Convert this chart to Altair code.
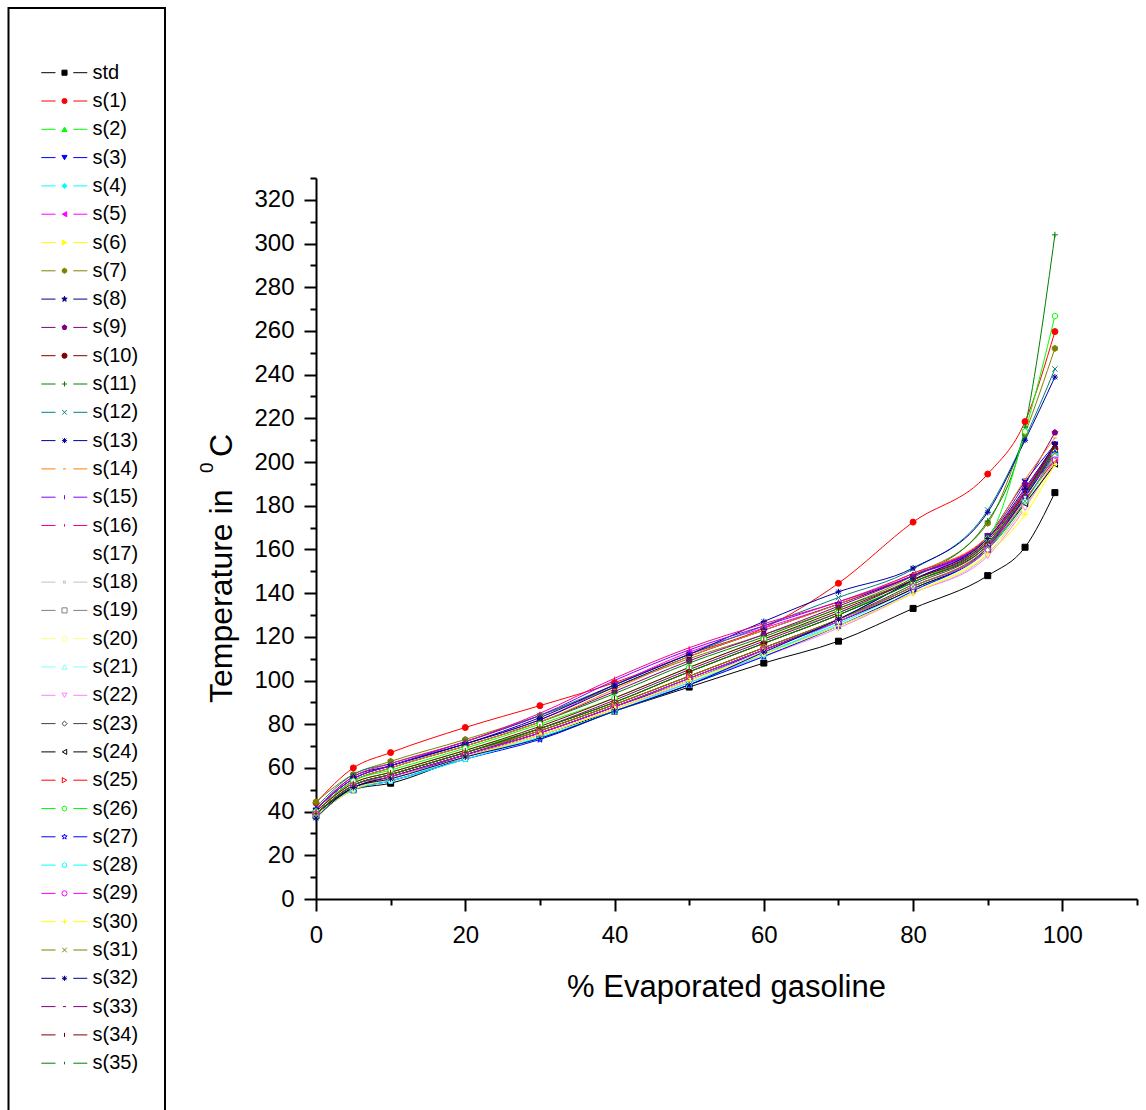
import math
import altair as alt
import pandas as pd

# ---------------- data ----------------
x_vals = [0, 5, 10, 20, 30, 40, 50, 60, 70, 80, 90, 95, 99]

t_std = [38, 50, 53, 65, 75, 86, 97, 108, 118, 133, 148, 161, 186]
t_s1 = [44, 60, 67, 78.5, 88.5, 99, 112, 124, 144.5, 172.5, 194.5, 218.5, 259.7]
t_s2 = [40, 53, 58, 68, 78, 90, 104, 117, 130, 145, 163, 186, 207]
t_s3 = [39, 51, 55, 66, 76, 88, 100, 114, 128, 146, 166, 191, 208]
t_s4 = [38, 50, 54, 65, 74, 86, 98, 112, 126, 142, 160, 183, 203]
t_s5 = [41, 55, 61, 71, 82, 98, 113, 124, 135, 148, 163, 184, 206]
t_s6 = [39, 52, 57, 67, 77, 89, 102, 115, 128, 143, 160, 180, 202]
t_s7 = [44.5, 57, 63, 73, 84, 97, 110, 121, 133, 148, 172, 213, 252]
t_s8 = [41, 55, 61, 71, 82, 97, 111, 123, 135, 148, 165, 187, 208]
t_s9 = [40, 54, 60, 70, 81, 95, 109, 121, 134, 148, 166, 190, 213.5]
t_s10 = [39, 52, 57, 67, 78, 90, 104, 117, 130, 145, 162, 184, 206]
t_s11 = [40, 54, 60, 70, 81, 94, 108, 120, 133, 147, 173, 216, 304]
t_s12 = [42, 57, 62, 72, 84, 98, 112, 125, 138, 151, 178, 211, 242.6]
t_s13 = [41, 56, 61, 71, 83, 98, 112, 127, 140.6, 151.5, 177, 210, 238.9]
t_s14 = [40, 54, 60, 70, 81, 96, 111, 123, 135, 149, 166, 192, 211]
t_s15 = [41, 55, 61, 72, 84, 100, 114, 125, 136, 148, 165, 186, 207]
t_s16 = [41, 56, 62, 72, 85, 101, 115, 126, 136, 149, 165, 187, 208]
t_s17 = [39, 52, 57, 67, 77, 89, 102, 115, 128, 143, 161, 183, 204]
t_s18 = [38, 50, 55, 65, 75, 87, 100, 113, 125, 140, 158, 180, 200]
t_s19 = [39, 51, 56, 66, 76, 88, 101, 114, 127, 142, 160, 182, 203]
t_s20 = [38, 51, 55, 65, 75, 87, 99, 112, 124, 140, 159, 178, 200]
t_s21 = [38, 50, 55, 65, 74, 86, 98, 111, 125, 141, 160, 181, 202]
t_s22 = [38, 50, 55, 65, 75, 87, 99, 111, 124, 140, 157, 179, 201]
t_s23 = [39, 51, 56, 66, 77, 89, 102, 115, 128, 144, 162, 184, 205]
t_s24 = [39, 51, 56, 66, 76, 88, 101, 114, 127, 142, 160, 181, 199]
t_s25 = [39, 52, 57, 67, 77, 89, 102, 115, 128, 143, 161, 183, 201]
t_s26 = [40, 54, 59, 69, 80, 92, 106, 119, 131, 145, 165, 214, 266.8]
t_s27 = [38, 50, 54, 64, 73, 86, 98, 111, 125, 141, 161, 184, 204]
t_s28 = [38, 50, 54, 64, 74, 86, 99, 112, 127, 143, 160, 182, 203]
t_s29 = [39, 52, 56, 66, 76, 88, 101, 114, 127, 143, 160, 186, 201]
t_s30 = [38, 50, 55, 65, 75, 87, 100, 112, 125, 140, 158, 176, 199]
t_s31 = [39, 52, 57, 67, 77, 89, 102, 115, 128, 143, 161, 182, 204]
t_s32 = [37, 51, 55, 65, 73.5, 86, 98, 113, 128, 146, 165, 188, 208]
t_s33 = [39, 52, 57, 67, 78, 91, 105, 118, 131, 146, 163, 185, 207]
t_s34 = [40, 53, 58, 68, 79, 92, 106, 119, 132, 146, 164, 186, 208]
t_s35 = [39, 52, 57, 67, 78, 90, 104, 117, 130, 145, 163, 185, 206]

series_names = ["std"] + [f"s({i})" for i in range(1, 36)]
series_values = [t_std, t_s1, t_s2, t_s3, t_s4, t_s5, t_s6, t_s7, t_s8, t_s9,
                 t_s10, t_s11, t_s12, t_s13, t_s14, t_s15, t_s16, t_s17, t_s18,
                 t_s19, t_s20, t_s21, t_s22, t_s23, t_s24, t_s25, t_s26, t_s27,
                 t_s28, t_s29, t_s30, t_s31, t_s32, t_s33, t_s34, t_s35]

x_title = "% Evaporated gasoline"
y_title_main = "Temperature in"
y_title_sup = "0"
y_title_unit = "C"

x_major = [0, 20, 40, 60, 80, 100]
x_minor = [10, 30, 50, 70, 90, 110]
y_major = list(range(0, 321, 20))
y_minor = list(range(10, 331, 20))

# ---------------- styles ----------------
series_colors = [
    "#000000", "#FF0000", "#00FF00", "#0000FF", "#00FFFF", "#FF00FF", "#FFFF00",
    "#808000", "#000080", "#800080", "#800000", "#008000", "#008080", "#0000A0",
    "#FF8000", "#8000FF", "#FF0080", "#FFFFFF", "#C0C0C0", "#808080", "#FFFF80",
    "#80FFFF", "#FF80FF", "#404040", "#000000", "#FF0000", "#00FF00", "#0000FF",
    "#00FFFF", "#FF00FF", "#FFFF00", "#808000", "#000080", "#800080", "#800000",
    "#008000",
]


def poly_path(n, r_out, r_in=None):
    pts = []
    k = 2 * n if r_in is not None else n
    for i in range(k):
        r = r_out if (r_in is None or i % 2 == 0) else r_in
        a = -math.pi / 2 + i * 2 * math.pi / k
        pts.append((r * math.cos(a), r * math.sin(a)))
    return "M" + "L".join(f"{px:.3f},{py:.3f}" for px, py in pts) + "Z"


HEX = poly_path(6, 1.0)
STAR = poly_path(5, 1.1, 0.45)
PENT = poly_path(5, 1.0)
PLUS = "M-1,0L1,0M0,-1L0,1"
XMARK = "M-0.9,-0.9L0.9,0.9M-0.9,0.9L0.9,-0.9"
AST = "M-1,0L1,0M0,-1L0,1M-0.75,-0.75L0.75,0.75M-0.75,0.75L0.75,-0.75"
DASH = "M-0.6,0L0.6,0"
BAR = "M0,-0.8L0,0.8"
TICK = "M0,-0.55L0,0.45"
SMALL = "M-0.4,-0.4L0.4,-0.4L0.4,0.4L-0.4,0.4Z"

series_shapes = [
    "square", "circle", "triangle-up", "triangle-down", "diamond", "triangle-left",
    "triangle-right", HEX, STAR, PENT, "circle", PLUS, XMARK, AST, DASH, BAR, TICK,
    "circle", SMALL, "square", "circle", "triangle-up", "triangle-down", "diamond",
    "triangle-left", "triangle-right", HEX, STAR, PENT, "circle", PLUS, XMARK, AST,
    DASH, BAR, TICK,
]
fill_kind = (["solid"] * 11 + ["none"] * 6 + ["white"] * 1 + ["white"] * 11 + ["none"] * 6)
series_fills = []
for c, k in zip(series_colors, fill_kind):
    series_fills.append(c if k == "solid" else ("#FFFFFF" if k == "white" else "transparent"))

FONT = "Liberation Sans"

# ---------------- tables ----------------
rows = []
for name, vals in zip(series_names, series_values):
    for xv, yv in zip(x_vals, vals):
        rows.append({"series": name, "pct": xv, "temp": yv})
df = pd.DataFrame(rows)
leg_df = pd.DataFrame({"series": series_names, "li": list(range(len(series_names)))})

PW, PH = 821, 721
x_scale = alt.Scale(domain=[0, 110], nice=False, zero=False)
y_scale = alt.Scale(domain=[0, 330], nice=False, zero=False)
color_scale = alt.Scale(domain=series_names, range=series_colors)
shape_scale = alt.Scale(domain=series_names, range=series_shapes)
fill_scale = alt.Scale(domain=series_names, range=series_fills)

LEG_TOP = 72.7 - 178
LEG_STEP = 28.3
leg_scale = alt.Scale(domain=[0, 35], range=[LEG_TOP, LEG_TOP + 35 * LEG_STEP], nice=False, zero=False)

major_axis_common = dict(grid=False, title=None, domainColor="black", domainWidth=2,
                         tickColor="black", tickWidth=2, tickSize=12,
                         labelFont=FONT, labelFontSize=24, labelColor="black",
                         labelFlush=False, labelOverlap=False, format="d")
minor_axis_common = dict(grid=False, title=None, labels=False, domain=False,
                         tickColor="black", tickWidth=2, tickSize=6)

lines = alt.Chart(df).mark_line(strokeWidth=1, interpolate="monotone").encode(
    x=alt.X("pct:Q", scale=x_scale,
            axis=alt.Axis(values=x_major, orient="bottom", labelPadding=12, **major_axis_common)),
    y=alt.Y("temp:Q", scale=y_scale,
            axis=alt.Axis(values=y_major, orient="left", labelPadding=10, **major_axis_common)),
    color=alt.Color("series:N", scale=color_scale, legend=None),
    order=alt.Order("pct:Q"),
)

points = alt.Chart(df).mark_point(size=36, strokeWidth=1, opacity=1, fillOpacity=1).encode(
    x=alt.X("pct:Q", scale=x_scale, axis=alt.Axis(values=x_minor, orient="bottom", **minor_axis_common)),
    y=alt.Y("temp:Q", scale=y_scale, axis=alt.Axis(values=y_minor, orient="left", **minor_axis_common)),
    shape=alt.Shape("series:N", scale=shape_scale, legend=None),
    stroke=alt.Stroke("series:N", scale=color_scale, legend=None),
    fill=alt.Fill("series:N", scale=fill_scale, legend=None),
)

leg_y = alt.Y("li:Q", scale=leg_scale, axis=None)

leg_line_l = alt.Chart(leg_df).mark_rule(strokeWidth=1).encode(
    x=alt.value(41.3 - 316), x2=alt.value(55.5 - 316), y=leg_y,
    color=alt.Color("series:N", scale=color_scale, legend=None),
)
leg_line_r = alt.Chart(leg_df).mark_rule(strokeWidth=1).encode(
    x=alt.value(73.3 - 316), x2=alt.value(87.3 - 316), y=leg_y,
    color=alt.Color("series:N", scale=color_scale, legend=None),
)
leg_marks = alt.Chart(leg_df).mark_point(size=26, strokeWidth=1, opacity=1, fillOpacity=1).encode(
    x=alt.value(64.5 - 316), y=leg_y,
    shape=alt.Shape("series:N", scale=shape_scale, legend=None),
    stroke=alt.Stroke("series:N", scale=color_scale, legend=None),
    fill=alt.Fill("series:N", scale=fill_scale, legend=None),
)
leg_text = alt.Chart(leg_df).mark_text(align="left", baseline="middle", font=FONT,
                                       fontSize=20, color="black").encode(
    x=alt.value(92.5 - 316), y=leg_y, text="series:N",
)
leg_box = alt.Chart(pd.DataFrame({"k": [0]})).mark_rect(
    fillOpacity=0, stroke="black", strokeWidth=2).encode(
    x=alt.value(8.5 - 316), x2=alt.value(165 - 316),
    y=alt.value(8 - 178), y2=alt.value(1125 - 178),
)

xt = alt.Chart(pd.DataFrame({"t": [x_title]})).mark_text(
    align="center", baseline="alphabetic", font=FONT, fontSize=31, color="black").encode(
    x=alt.value(726.5 - 316), y=alt.value(997 - 178), text="t:N")
yt1 = alt.Chart(pd.DataFrame({"t": [y_title_main]})).mark_text(
    align="left", baseline="alphabetic", angle=270, font=FONT, fontSize=32, color="black").encode(
    x=alt.value(232 - 316), y=alt.value(703 - 178), text="t:N")
yt2 = alt.Chart(pd.DataFrame({"t": [y_title_sup]})).mark_text(
    align="left", baseline="alphabetic", angle=270, font=FONT, fontSize=19, color="black").encode(
    x=alt.value(213 - 316), y=alt.value(473 - 178), text="t:N")
yt3 = alt.Chart(pd.DataFrame({"t": [y_title_unit]})).mark_text(
    align="left", baseline="alphabetic", angle=270, font=FONT, fontSize=32, color="black").encode(
    x=alt.value(232 - 316), y=alt.value(457 - 178), text="t:N")

chart = alt.layer(
    lines, points, leg_box, leg_line_l, leg_line_r, leg_marks, leg_text, xt, yt1, yt2, yt3
).resolve_scale(y="independent").resolve_axis(x="independent", y="independent").properties(
    width=PW, height=PH,
    padding={"left": 316, "top": 178, "right": 9, "bottom": 211},
    autosize=alt.AutoSizeParams(type="none"),
    background="white",
).configure_view(stroke="transparent")

chart.save("out.html", embed_options={"renderer": "svg", "actions": False})
